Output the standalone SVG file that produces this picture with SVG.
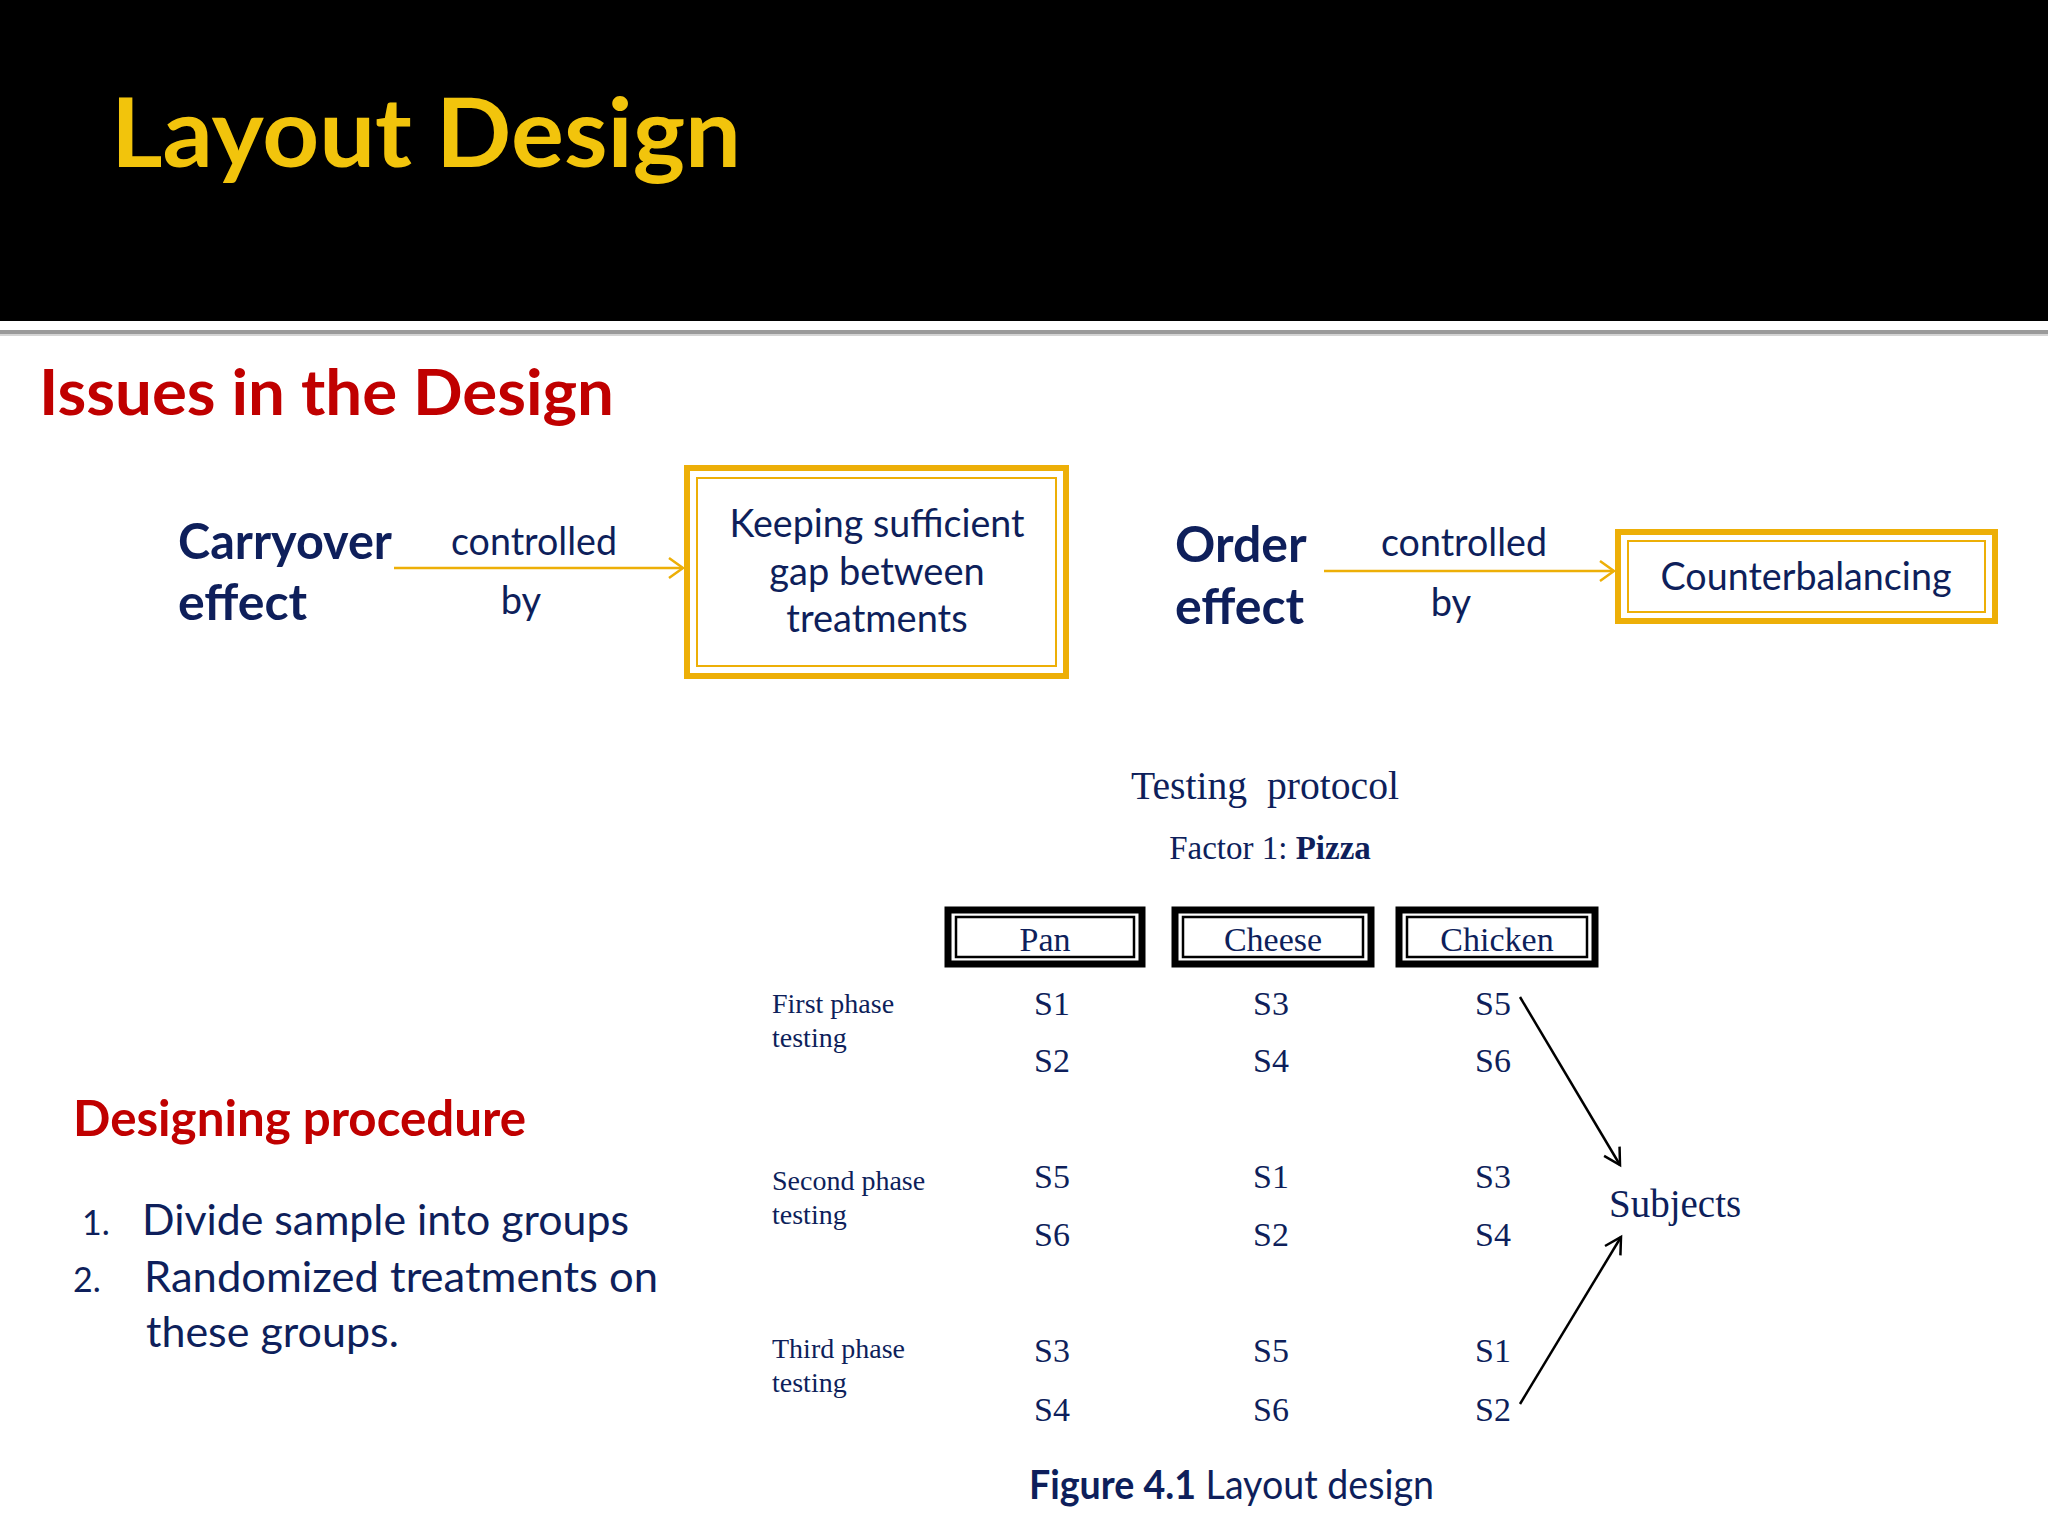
<svg xmlns="http://www.w3.org/2000/svg" width="2048" height="1536" viewBox="0 0 2048 1536">
<defs>
<style>
.cal{font-family:Lato,"Open Sans","Noto Sans",sans-serif;}
.tnr{font-family:"Liberation Serif","Times New Roman",serif;fill:#0E1F5B;}
.navy{fill:#0E1F5B;}
.red{fill:#C00000;font-weight:bold;}
.b{font-weight:bold;}
.ybox{fill:#fff;stroke:#EDAF07;stroke-width:6;}
.yin{fill:none;stroke:#EDAF07;stroke-width:2;}
.kbox{fill:#fff;stroke:#000;stroke-width:7;}
.kin{fill:none;stroke:#000;stroke-width:2.5;}
.yl{stroke:#EDAF07;stroke-width:2.5;fill:none;}
.kl{stroke:#000;stroke-width:2.5;fill:none;}
</style>
<marker id="ya" markerWidth="20" markerHeight="24" refX="16" refY="12" orient="auto" markerUnits="userSpaceOnUse">
<path d="M2,2 L16,12 L2,22" fill="none" stroke="#EDAF07" stroke-width="2.5"/>
</marker>
<marker id="ka" markerWidth="22" markerHeight="24" refX="18" refY="12" orient="auto" markerUnits="userSpaceOnUse">
<path d="M2,3 L18,12 L2,21" fill="none" stroke="#000" stroke-width="2.5"/>
</marker>
</defs>
<rect width="2048" height="1536" fill="#fff"/>
<g id="header">
<rect x="0" y="0" width="2048" height="321" fill="#000"/>
<rect x="0" y="330" width="2048" height="4" fill="#9a9a9a"/>
<rect x="0" y="334" width="2048" height="2" fill="#d4d4d4"/>
<text class="cal b" x="111" y="167" font-size="96" fill="#F2C40C" textLength="630" lengthAdjust="spacingAndGlyphs">Layout Design</text>
</g>
<g id="issues-title">
<text class="cal red" x="39" y="415" font-size="64" textLength="575" lengthAdjust="spacingAndGlyphs">Issues in the Design</text>
</g>
<g id="carryover">
<text class="cal b navy" x="178" y="559" font-size="50" textLength="214" lengthAdjust="spacingAndGlyphs">Carryover</text>
<text class="cal b navy" x="178" y="620" font-size="50">effect</text>
</g>
<g id="gap-box">
<rect class="ybox" x="687" y="468" width="379" height="208"/>
<rect class="yin" x="697" y="478" width="359" height="188"/>
<text class="cal navy" x="877" y="537" font-size="38" text-anchor="middle" textLength="295" lengthAdjust="spacingAndGlyphs">Keeping sufficient</text>
<text class="cal navy" x="877" y="585" font-size="38" text-anchor="middle">gap between</text>
<text class="cal navy" x="877" y="632" font-size="38" text-anchor="middle">treatments</text>
</g>
<g id="order">
<text class="cal b navy" x="1175" y="562" font-size="50">Order</text>
<text class="cal b navy" x="1175" y="624" font-size="50">effect</text>
</g>
<g id="counterbalancing">
<rect class="ybox" x="1618" y="532" width="377" height="89"/>
<rect class="yin" x="1628" y="541" width="357" height="71"/>
<text class="cal navy" x="1806" y="590" font-size="38" text-anchor="middle" textLength="291" lengthAdjust="spacingAndGlyphs">Counterbalancing</text>
</g>
<g id="connectors">
<line class="yl" x1="394" y1="568" x2="683" y2="568" marker-end="url(#ya)"/>
<line class="yl" x1="1324" y1="571" x2="1614" y2="571" marker-end="url(#ya)"/>
<line class="kl" x1="1520" y1="997" x2="1620" y2="1165" marker-end="url(#ka)"/>
<line class="kl" x1="1520" y1="1404" x2="1621" y2="1237" marker-end="url(#ka)"/>
</g>
<g id="edge-labels">
<text class="cal navy" x="534" y="555" font-size="38" text-anchor="middle" textLength="166" lengthAdjust="spacingAndGlyphs">controlled</text>
<text class="cal navy" x="521" y="614" font-size="38" text-anchor="middle">by</text>
<text class="cal navy" x="1464" y="556" font-size="38" text-anchor="middle" textLength="166" lengthAdjust="spacingAndGlyphs">controlled</text>
<text class="cal navy" x="1451" y="616" font-size="38" text-anchor="middle">by</text>
</g>
<g id="protocol-title">
<text class="tnr" x="1265" y="799" font-size="41" text-anchor="middle" textLength="268" lengthAdjust="spacingAndGlyphs" xml:space="preserve">Testing  protocol</text>
<text class="tnr" x="1270" y="859" font-size="33" text-anchor="middle">Factor 1: <tspan font-weight="bold">Pizza</tspan></text>
</g>
<g id="col-pan">
<rect class="kbox" x="948" y="910" width="194" height="54"/>
<rect class="kin" x="956" y="917" width="178" height="40"/>
<text class="tnr" x="1045" y="951" font-size="34" text-anchor="middle">Pan</text>
</g>
<g id="col-cheese">
<rect class="kbox" x="1175" y="910" width="196" height="54"/>
<rect class="kin" x="1183" y="917" width="180" height="40"/>
<text class="tnr" x="1273" y="951" font-size="34" text-anchor="middle">Cheese</text>
</g>
<g id="col-chicken">
<rect class="kbox" x="1399" y="910" width="196" height="54"/>
<rect class="kin" x="1407" y="917" width="180" height="40"/>
<text class="tnr" x="1497" y="951" font-size="34" text-anchor="middle">Chicken</text>
</g>
<g id="phase-labels">
<text class="tnr" x="772" y="1013" font-size="28">First phase</text>
<text class="tnr" x="772" y="1047" font-size="28">testing</text>
<text class="tnr" x="772" y="1190" font-size="28">Second phase</text>
<text class="tnr" x="772" y="1224" font-size="28">testing</text>
<text class="tnr" x="772" y="1358" font-size="28">Third phase</text>
<text class="tnr" x="772" y="1392" font-size="28">testing</text>
</g>
<g id="cells" font-size="34" text-anchor="middle">
<text class="tnr" x="1052" y="1015">S1</text>
<text class="tnr" x="1271" y="1015">S3</text>
<text class="tnr" x="1493" y="1015">S5</text>
<text class="tnr" x="1052" y="1072">S2</text>
<text class="tnr" x="1271" y="1072">S4</text>
<text class="tnr" x="1493" y="1072">S6</text>
<text class="tnr" x="1052" y="1188">S5</text>
<text class="tnr" x="1271" y="1188">S1</text>
<text class="tnr" x="1493" y="1188">S3</text>
<text class="tnr" x="1052" y="1246">S6</text>
<text class="tnr" x="1271" y="1246">S2</text>
<text class="tnr" x="1493" y="1246">S4</text>
<text class="tnr" x="1052" y="1362">S3</text>
<text class="tnr" x="1271" y="1362">S5</text>
<text class="tnr" x="1493" y="1362">S1</text>
<text class="tnr" x="1052" y="1421">S4</text>
<text class="tnr" x="1271" y="1421">S6</text>
<text class="tnr" x="1493" y="1421">S2</text>
</g>
<g id="subjects">
<text class="tnr" x="1609" y="1217" font-size="39">Subjects</text>
</g>
<g id="caption">
<text class="cal navy" x="1029" y="1499" font-size="40" textLength="405" lengthAdjust="spacingAndGlyphs"><tspan font-weight="bold">Figure 4.1</tspan> Layout design</text>
</g>
<g id="procedure">
<text class="cal red" x="73" y="1136" font-size="50" textLength="453" lengthAdjust="spacingAndGlyphs">Designing procedure</text>
<text class="cal navy" x="82" y="1235" font-size="34">1.</text>
<text class="cal navy" x="142" y="1235" font-size="43" textLength="487" lengthAdjust="spacingAndGlyphs">Divide sample into groups</text>
<text class="cal navy" x="73" y="1292" font-size="34">2.</text>
<text class="cal navy" x="144" y="1292" font-size="43" textLength="514" lengthAdjust="spacingAndGlyphs">Randomized treatments on</text>
<text class="cal navy" x="146" y="1347" font-size="43">these groups.</text>
</g>
</svg>
